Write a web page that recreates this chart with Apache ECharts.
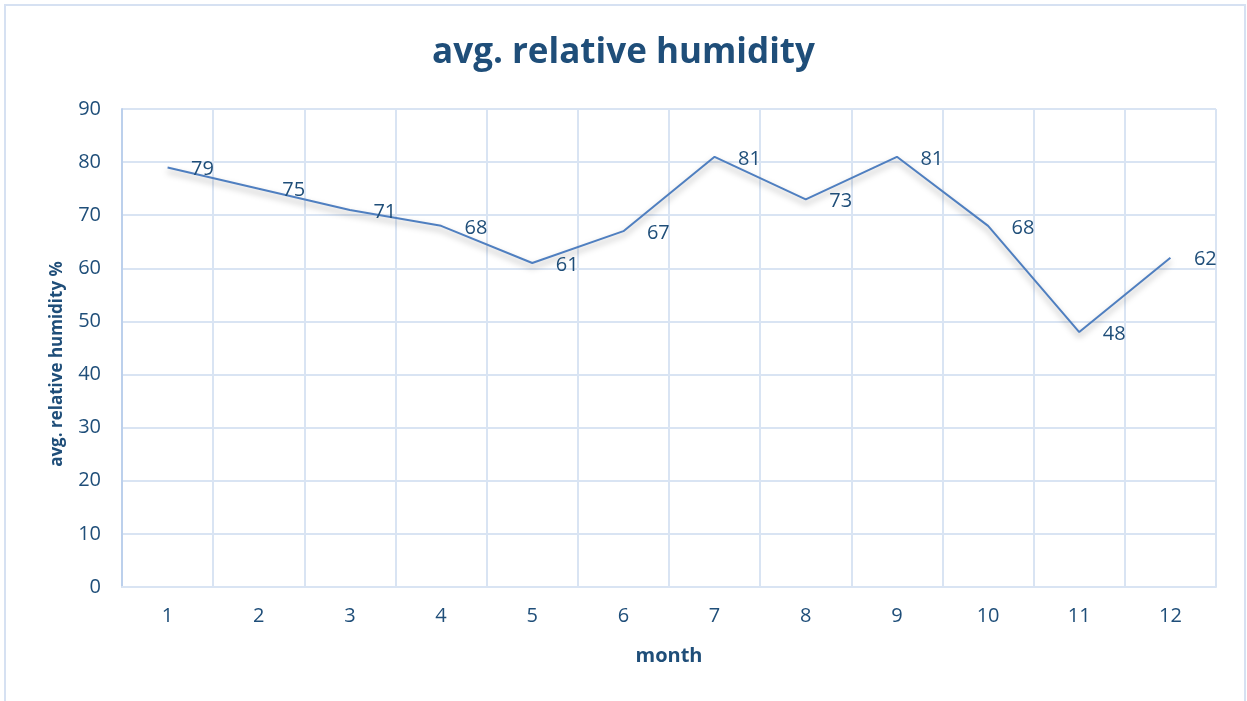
<!DOCTYPE html>
<html>
<head>
<meta charset="utf-8">
<style>
  html, body { margin: 0; padding: 0; background: #ffffff; }
  #chart { width: 1247px; height: 701px; }
</style>
<script src="https://cdn.jsdelivr.net/npm/echarts@6/dist/echarts.min.js"></script>
</head>
<body>
<div id="chart"></div>
<script>
// Monthly average relative humidity
const months = ['1', '2', '3', '4', '5', '6', '7', '8', '9', '10', '11', '12'];
const humidity = [79, 75, 71, 68, 61, 67, 81, 73, 81, 68, 48, 62];
const yTicks = { min: 0, max: 90, step: 10 };

const FONT = '"Open Sans", "Noto Sans", sans-serif';
const TEXT = '#1f4e79';
const GRIDLINE = '#d9e4f3';

const chart = echarts.init(document.getElementById('chart'), null, { renderer: 'canvas' });
chart.setOption({
  backgroundColor: '#ffffff',
  animation: false,
  graphic: [{
    type: 'rect',
    shape: { x: 5, y: 5, width: 1240, height: 720 },
    style: { fill: 'none', stroke: '#d6e1f2', lineWidth: 2 },
    silent: true
  }],
  title: {
    text: 'avg. relative humidity',
    left: 'center',
    top: 31,
    textStyle: { fontFamily: FONT, fontWeight: 'bold', fontSize: 35, color: TEXT }
  },
  grid: { left: 122, right: 31, top: 109, bottom: 114 },
  xAxis: {
    type: 'category',
    data: months,
    boundaryGap: true,
    name: 'month',
    nameLocation: 'middle',
    nameGap: 59,
    nameTextStyle: { fontFamily: FONT, fontWeight: 'bold', fontSize: 20, color: TEXT },
    axisLine: { lineStyle: { color: GRIDLINE, width: 2 } },
    axisTick: { show: false },
    axisLabel: { margin: 19, fontFamily: FONT, fontSize: 20, color: TEXT },
    splitLine: { show: true, lineStyle: { color: GRIDLINE, width: 2 } }
  },
  yAxis: {
    type: 'value',
    min: yTicks.min,
    max: yTicks.max,
    interval: yTicks.step,
    name: 'avg. relative humidity %',
    nameLocation: 'middle',
    nameGap: 56,
    nameTextStyle: {
      fontFamily: FONT, fontWeight: 'bold', fontSize: 17, color: TEXT,
      padding: [0, 32, 0, 0]
    },
    axisLine: { show: true, lineStyle: { color: '#bcd0ec', width: 2 } },
    axisTick: { show: false },
    axisLabel: { margin: 21, fontFamily: FONT, fontSize: 20, color: TEXT },
    splitLine: { show: true, lineStyle: { color: GRIDLINE, width: 2 } }
  },
  series: [{
    type: 'line',
    data: humidity,
    symbol: 'circle',
    symbolSize: 1,
    showSymbol: true,
    itemStyle: { color: 'rgba(0,0,0,0)' },
    lineStyle: {
      color: '#4f7fc0',
      width: 2,
      shadowColor: 'rgba(0,0,0,0.35)',
      shadowBlur: 6,
      shadowOffsetY: 4
    },
    label: {
      show: true,
      position: 'right',
      distance: 23,
      offset: [0, 2],
      fontFamily: FONT,
      fontSize: 20,
      color: TEXT
    }
  }]
});
</script>
</body>
</html>
